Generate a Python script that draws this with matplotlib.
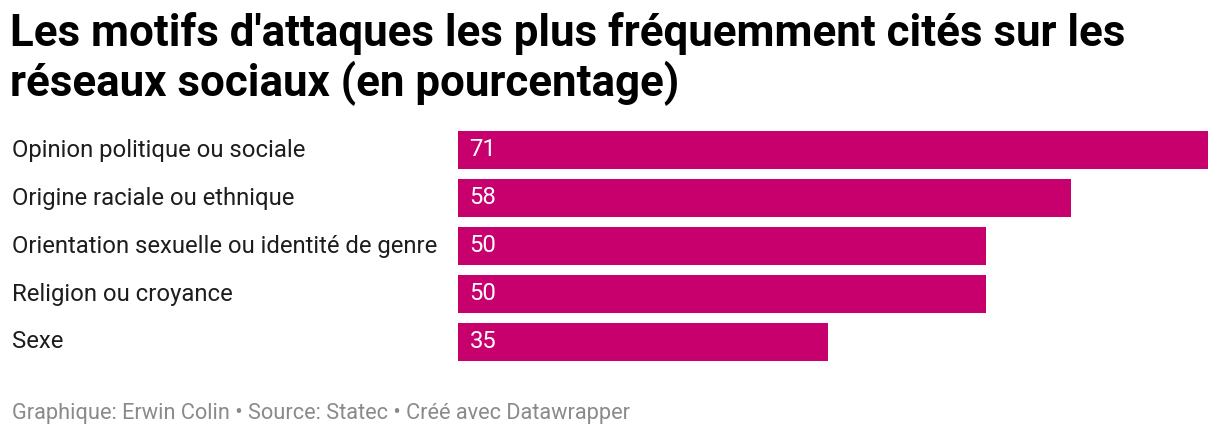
import matplotlib

matplotlib.use("Agg")

import matplotlib.pyplot as plt

# Data (percentages).
categories = [
    "Opinion politique ou sociale",
    "Origine raciale ou ethnique",
    "Orientation sexuelle ou identité de genre",
    "Religion ou croyance",
    "Sexe",
]
values = [71, 58, 50, 50, 35]

TITLE = "Les motifs d'attaques les plus fréquemment cités sur les\nréseaux sociaux (en pourcentage)"
FOOTER = "Graphique: Erwin Colin \u2022 Source: Statec \u2022 Créé avec Datawrapper"

BAR_COLOR = "#c8006e"
W, H = 1220, 438

plt.rcParams["font.family"] = ["Roboto", "DejaVu Sans"]

fig = plt.figure(figsize=(W / 100, H / 100), dpi=100)

# Axes placed in pixel terms: bars span x 458..1208, rows 126..366.
left, right = 458, 1208
top, bottom = 126, 366
ax = fig.add_axes([left / W, 1 - bottom / H, (right - left) / W, (bottom - top) / H])

y = list(range(len(categories)))
ax.barh(y, values, height=0.81, color=BAR_COLOR)
ax.set_xlim(0, max(values))
ax.set_ylim(len(categories) - 0.5, -0.5)
ax.axis("off")

for yi, v in zip(y, values):
    ax.text(1.1, yi, f"{v}", color="white", fontsize=17.2,
            va="center", ha="left")

for yi, cat in zip(y, categories):
    fig.text(12 / W, 1 - (top + 24 + 48 * yi) / H, cat, fontsize=17.2,
             color="#1d1d1d", va="center", ha="left")

fig.text(10 / W, 1 - 12 / H, TITLE, fontsize=31.6, fontweight="bold",
         color="#000000", va="top", ha="left", linespacing=1.17)

fig.text(12 / W, 1 - 414 / H, FOOTER, fontsize=15.7, color="#8a8a8a",
         va="center", ha="left")

fig.savefig("out.png", dpi=100)
